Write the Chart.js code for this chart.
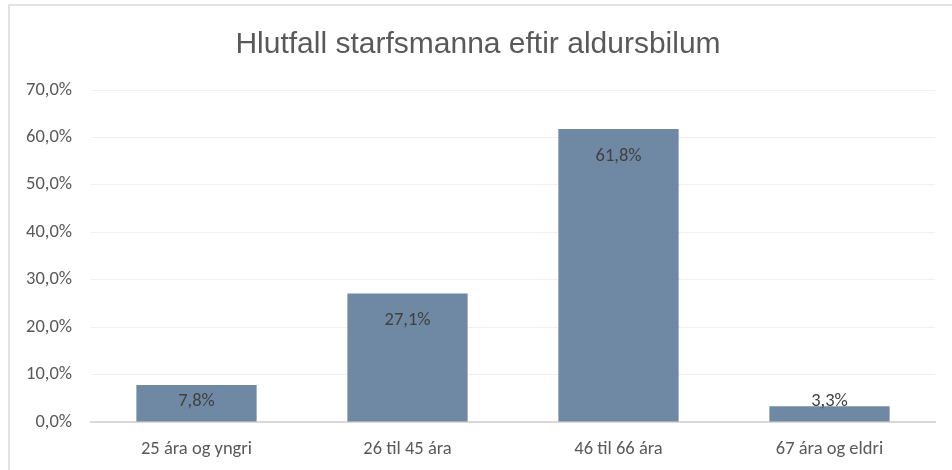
<!DOCTYPE html>
<html>
<head>
<meta charset="utf-8">
<script src="https://cdn.jsdelivr.net/npm/chart.js@4"></script>
<style>
  html, body { margin: 0; padding: 0; background: #fff; overflow: hidden; }
  #frame {
    position: absolute; left: 8px; top: 4px;
    width: 980px; height: 500px;
    border: 2px solid #e3e3e3;
  }
  #wrap { position: absolute; left: 0; top: 0; width: 952px; height: 470px; }
</style>
</head>
<body>
<div id="frame"></div>
<div id="wrap"><canvas id="aldur"></canvas></div>
<script>
  const chartTitle = 'Hlutfall starfsmanna eftir aldursbilum';
  const categories = ['25 ára og yngri', '26 til 45 ára', '46 til 66 ára', '67 ára og eldri'];
  const hlutfall = [7.8, 27.1, 61.8, 3.3];
  const yTicks = [0, 10, 20, 30, 40, 50, 60, 70];

  const fmt = v => v.toFixed(1).replace('.', ',') + '%';
  const bodyFont = "Carlito, Lato, 'Open Sans', sans-serif";
  const bodySize = 18.5;

  // title is centred on the whole frame, not just the plot
  const frameTitle = {
    id: 'frameTitle',
    afterDraw(chart) {
      const { ctx } = chart;
      ctx.save();
      ctx.font = "30px 'Liberation Sans', Arial, sans-serif";
      ctx.fillStyle = '#595959';
      ctx.textAlign = 'center';
      ctx.textBaseline = 'middle';
      ctx.fillText(chartTitle, 478, 45);
      ctx.restore();
    }
  };

  // labels sit inside the top of each bar, pushed up for short bars
  const barLabels = {
    id: 'barLabels',
    afterDatasetsDraw(chart) {
      const { ctx } = chart;
      const meta = chart.getDatasetMeta(0);
      const base = chart.scales.y.getPixelForValue(0);
      ctx.save();
      ctx.font = bodySize + 'px ' + bodyFont;
      ctx.fillStyle = '#404040';
      ctx.textAlign = 'center';
      ctx.textBaseline = 'middle';
      meta.data.forEach((bar, i) => {
        const y = Math.min(bar.y + 27, base - 21);
        ctx.fillText(fmt(hlutfall[i]), bar.x, y);
      });
      ctx.restore();
    }
  };

  new Chart('aldur', {
    type: 'bar',
    data: {
      labels: categories,
      datasets: [{
        data: hlutfall,
        backgroundColor: '#6f89a4',
        borderWidth: 0,
        categoryPercentage: 1,
        barPercentage: 0.57
      }]
    },
    options: {
      responsive: true,
      maintainAspectRatio: false,
      animation: false,
      layout: { padding: { left: 0, right: 17, top: 90, bottom: 0 } },
      plugins: {
        legend: { display: false },
        tooltip: { enabled: false },
        title: { display: false }
      },
      scales: {
        x: {
          afterFit(scale) { scale.height = 48; },
          grid: { display: false, drawTicks: false },
          border: { color: '#d9d9d9', width: 2 },
          ticks: { color: '#595959', font: { family: bodyFont, size: bodySize }, padding: 16 }
        },
        y: {
          min: 0,
          max: 70,
          afterFit(scale) { scale.width = 91; },
          afterBuildTicks(scale) { scale.ticks = yTicks.map(v => ({ value: v })); },
          grid: { color: '#f0f0f0', lineWidth: 1, drawTicks: false },
          border: { display: false },
          ticks: {
            color: '#595959',
            font: { family: bodyFont, size: bodySize },
            padding: 19,
            callback: v => fmt(v)
          }
        }
      }
    },
    plugins: [barLabels, frameTitle]
  });
</script>
</body>
</html>
